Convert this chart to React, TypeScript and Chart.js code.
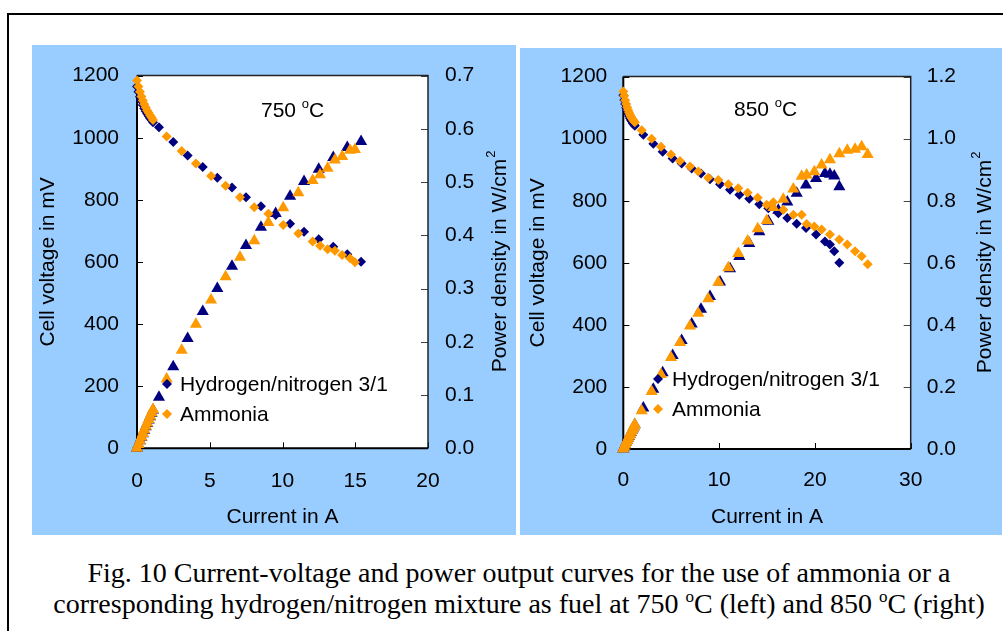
import React, { useEffect, useRef } from "react";
import { Chart, registerables } from "chart.js";
Chart.register(...registerables);

const NAVY = "#000080";
const ORANGE = "#FF9900";
const PANEL = "#99CCFF";
const FONT = "'Liberation Sans', Arial, sans-serif";

// ---------- 750 °C (left panel) ----------
const h750Current = [0, 0.1, 0.2, 0.3, 0.4, 0.5, 0.6, 0.7, 0.8, 0.9, 1.0, 1.1, 1.51, 2.49, 3.48, 4.52, 5.52, 6.53, 7.49, 8.52, 9.53, 10.52, 11.48, 12.49, 13.49, 14.45, 15.4];
const h750Voltage = [1165, 1148, 1132, 1118, 1105, 1094, 1085, 1077, 1070, 1063, 1057, 1050, 1034, 986, 943, 906, 871, 840, 808, 779, 751, 723, 697, 673, 649, 625, 601];
const h750Power = [0, 0.0071, 0.014, 0.0208, 0.0275, 0.034, 0.0404, 0.0468, 0.0532, 0.0594, 0.0656, 0.0717, 0.0958, 0.153, 0.206, 0.257, 0.3, 0.342, 0.381, 0.415, 0.441, 0.4735, 0.501, 0.524, 0.546, 0.565, 0.576];

const a750Current = [0, 0.1, 0.2, 0.3, 0.4, 0.5, 0.6, 0.7, 0.8, 0.9, 1.0, 1.1, 2.04, 3.07, 4.05, 5.09, 6.09, 7.08, 8.06, 9.03, 10.05, 11.09, 12.07, 12.58, 13.1, 13.6, 14.1, 14.64, 14.98];
const a750Voltage = [1184, 1165, 1148, 1133, 1120, 1108, 1097, 1088, 1080, 1072, 1065, 1057, 1004, 957, 917, 877, 845, 808, 776, 755, 719, 692, 666, 652, 641, 636, 622, 612, 599];
const a750Power = [0, 0.0073, 0.0144, 0.0213, 0.028, 0.0348, 0.0413, 0.0477, 0.0541, 0.0604, 0.0666, 0.0728, 0.13, 0.184, 0.233, 0.2785, 0.322, 0.359, 0.39, 0.424, 0.452, 0.48, 0.503, 0.514, 0.526, 0.5415, 0.548, 0.56, 0.561];

// ---------- 850 °C (right panel) ----------
const h850Current = [0, 0.1, 0.2, 0.3, 0.4, 0.5, 0.6, 0.7, 0.8, 0.9, 1.0, 1.1, 1.2, 2.09, 3.13, 4.11, 5.15, 6.09, 7.14, 8.11, 9.05, 10.1, 11.14, 12.11, 13.15, 14.2, 15.14, 16.18, 17.12, 18.1, 19.07, 20.12, 21.05, 21.57, 22.02, 22.55];
const h850Voltage = [1140, 1125, 1112, 1100, 1090, 1081, 1073, 1066, 1060, 1055, 1050, 1046, 1042, 1013, 984, 958, 936, 920, 904, 888, 869, 853, 835, 819, 806, 789, 776, 760, 744, 726, 712, 691, 669, 659, 637, 600];
const h850Power = [0, 0.007, 0.0139, 0.0206, 0.0273, 0.0338, 0.0402, 0.0466, 0.053, 0.0593, 0.0656, 0.0719, 0.0782, 0.132, 0.1925, 0.246, 0.301, 0.35, 0.403, 0.45, 0.4915, 0.538, 0.581, 0.62, 0.662, 0.7, 0.734, 0.769, 0.796, 0.824, 0.851, 0.872, 0.888, 0.885, 0.88, 0.845];

const a850Current = [0, 0.1, 0.2, 0.3, 0.4, 0.5, 0.6, 0.7, 0.8, 0.9, 1.0, 1.1, 1.2, 1.92, 2.96, 3.94, 4.98, 5.92, 6.96, 7.83, 8.87, 9.92, 10.96, 12.0, 12.98, 14.03, 14.97, 15.66, 16.7, 17.75, 18.62, 19.14, 19.94, 20.7, 21.57, 22.55, 23.38, 24.19, 24.88, 25.51];
const a850Voltage = [1152, 1138, 1124, 1112, 1101, 1092, 1084, 1077, 1071, 1066, 1061, 1057, 1053, 1027, 1000, 974, 949, 928, 910, 894, 874, 867, 853, 840, 826, 810, 787, 795, 771, 755, 755, 725, 717, 707, 691, 675, 659, 637, 621, 595];
const a850Power = [0, 0.0071, 0.014, 0.0209, 0.0275, 0.0341, 0.0407, 0.0471, 0.0536, 0.06, 0.0663, 0.0727, 0.079, 0.123, 0.185, 0.24, 0.295, 0.343, 0.396, 0.4375, 0.4845, 0.5375, 0.584, 0.63, 0.67, 0.71, 0.736, 0.778, 0.805, 0.838, 0.879, 0.883, 0.8936, 0.915, 0.932, 0.951, 0.963, 0.966, 0.974, 0.949];

const LABEL_H2 = "Hydrogen/nitrogen 3/1";
const LABEL_NH3 = "Ammonia";
const X_TITLE = "Current in A";
const Y_TITLE = "Cell voltage in mV";
const Y2_TITLE = "Power density in W/cm";

type Panel = {
  w: number; h: number;
  xMax: number; xStep: number; y2Max: number; y2Step: number;
  hCur: number[]; hV: number[]; hP: number[];
  aCur: number[]; aV: number[]; aP: number[];
  temp: string;
  padTop: number; leftW: number; rightW: number; bottomH: number;
  xTickPad: number; yTickPad: number; y2TickPad: number; yTitlePad: number; xTitlePad: number;
  tempX: number; tempY: number;
  legX: number; legY1: number; legY2: number; legTextX: number;
  y2TitleX: number;
};

const pts = (xs: number[], ys: number[]) => xs.map((x, i) => ({ x, y: ys[i] }));

function makeChart(canvas: HTMLCanvasElement, p: Panel) {
  const deco = {
    id: "deco",
    beforeDraw(chart: any) {
      const { ctx, chartArea: a, width, height } = chart;
      ctx.save();
      ctx.fillStyle = PANEL;
      ctx.fillRect(0, 0, width, height);
      ctx.fillStyle = "#fff";
      ctx.fillRect(a.left, a.top, a.right - a.left, a.bottom - a.top);
      ctx.restore();
    },
    beforeDatasetsDraw(chart: any) {
      const { ctx, chartArea: a } = chart;
      const sx = chart.scales.x, sy = chart.scales.y, sy2 = chart.scales.y2;
      ctx.save();
      ctx.strokeStyle = "#000";
      ctx.lineWidth = 1;
      ctx.beginPath();
      for (const t of sx.ticks) {
        const px = Math.round(sx.getPixelForValue(t.value)) + 0.5;
        ctx.moveTo(px, a.bottom); ctx.lineTo(px, a.bottom - 6);
      }
      for (const t of sy.ticks) {
        const py = Math.round(sy.getPixelForValue(t.value)) + 0.5;
        ctx.moveTo(a.left, py); ctx.lineTo(a.left + 6, py);
      }
      ctx.stroke();
      ctx.strokeStyle = "#444";
      ctx.beginPath();
      for (const t of sy2.ticks) {
        const py = Math.round(sy2.getPixelForValue(t.value)) + 0.5;
        ctx.moveTo(a.right, py); ctx.lineTo(a.right - 7, py);
      }
      ctx.stroke();
      // frame
      ctx.strokeStyle = "#222";
      ctx.lineWidth = 1.5;
      ctx.beginPath();
      ctx.moveTo(a.left, a.top); ctx.lineTo(a.right, a.top); ctx.lineTo(a.right, a.bottom);
      ctx.stroke();
      ctx.strokeStyle = "#000";
      ctx.lineWidth = 2;
      ctx.beginPath();
      ctx.moveTo(a.left, a.top); ctx.lineTo(a.left, a.bottom); ctx.lineTo(a.right, a.bottom);
      ctx.stroke();
      ctx.restore();
    },
    afterDraw(chart: any) {
      const { ctx, chartArea: a } = chart;
      ctx.save();
      ctx.fillStyle = "#000";
      ctx.textBaseline = "alphabetic";
      ctx.textAlign = "left";
      // temperature label with superscript o
      ctx.font = `21px ${FONT}`;
      const t1 = p.temp + " ";
      ctx.fillText(t1, p.tempX, p.tempY);
      let xx = p.tempX + ctx.measureText(t1).width;
      ctx.font = `13px ${FONT}`;
      ctx.fillText("o", xx, p.tempY - 9);
      xx += ctx.measureText("o").width;
      ctx.font = `21px ${FONT}`;
      ctx.fillText("C", xx, p.tempY);
      // legend
      const diamond = (cx: number, cy: number, col: string) => {
        ctx.fillStyle = col;
        ctx.beginPath();
        ctx.moveTo(cx, cy - 5); ctx.lineTo(cx + 5, cy); ctx.lineTo(cx, cy + 5); ctx.lineTo(cx - 5, cy);
        ctx.closePath();
        ctx.fill();
      };
      diamond(p.legX, p.legY1, NAVY);
      diamond(p.legX, p.legY2, ORANGE);
      ctx.fillStyle = "#000";
      ctx.font = `21px ${FONT}`;
      ctx.textBaseline = "middle";
      ctx.fillText(LABEL_H2, p.legTextX, p.legY1 + 1);
      ctx.fillText(LABEL_NH3, p.legTextX, p.legY2 + 1);
      // right axis title (rotated, reading bottom-to-top) with superscript 2
      const cy = (a.top + a.bottom) / 2;
      ctx.translate(p.y2TitleX, cy);
      ctx.rotate(-Math.PI / 2);
      ctx.font = `21px ${FONT}`;
      const wMain = ctx.measureText(Y2_TITLE).width;
      ctx.font = `13px ${FONT}`;
      const wSup = ctx.measureText("2").width;
      const start = -(wMain + wSup) / 2;
      ctx.font = `21px ${FONT}`;
      ctx.textBaseline = "middle";
      ctx.fillText(Y2_TITLE, start, 0);
      ctx.font = `13px ${FONT}`;
      ctx.fillText("2", start + wMain + 1, -9);
      ctx.restore();
    },
  };

  const tickFont = { family: FONT, size: 21 };
  return new Chart(canvas, {
    type: "scatter",
    data: {
      datasets: [
        { label: LABEL_NH3, data: pts(p.aCur, p.aV), yAxisID: "y", pointStyle: "rectRot", pointRadius: 5, pointBorderWidth: 0, backgroundColor: ORANGE, borderColor: ORANGE, clip: false } as any,
        { label: LABEL_NH3 + " power", data: pts(p.aCur, p.aP), yAxisID: "y2", pointStyle: "triangle", pointRadius: 7, pointBorderWidth: 0, backgroundColor: ORANGE, borderColor: ORANGE, clip: false } as any,
        { label: LABEL_H2, data: pts(p.hCur, p.hV), yAxisID: "y", pointStyle: "rectRot", pointRadius: 5, pointBorderWidth: 0, backgroundColor: NAVY, borderColor: NAVY, clip: false } as any,
        { label: LABEL_H2 + " power", data: pts(p.hCur, p.hP), yAxisID: "y2", pointStyle: "triangle", pointRadius: 7, pointBorderWidth: 0, backgroundColor: NAVY, borderColor: NAVY, clip: false } as any,
      ],
    },
    options: {
      animation: false,
      responsive: false,
      devicePixelRatio: 1,
      layout: { padding: { top: p.padTop, left: 0, right: 0, bottom: 0 } },
      plugins: { legend: { display: false }, tooltip: { enabled: false } },
      events: [],
      scales: {
        x: {
          type: "linear", min: 0, max: p.xMax,
          ticks: { stepSize: p.xStep, color: "#000", font: tickFont, padding: p.xTickPad, maxRotation: 0, callback: (v: any) => String(v) },
          grid: { display: false, drawTicks: false },
          border: { display: false },
          title: { display: true, text: X_TITLE, color: "#000", font: tickFont, padding: { top: 0, bottom: p.xTitlePad } },
          afterFit: (s: any) => { s.height = p.bottomH; },
        },
        y: {
          type: "linear", position: "left", min: 0, max: 1200,
          ticks: { stepSize: 200, color: "#000", font: tickFont, padding: p.yTickPad, callback: (v: any) => String(v) },
          grid: { display: false, drawTicks: false },
          border: { display: false },
          title: { display: true, text: Y_TITLE, color: "#000", font: tickFont, padding: { top: p.yTitlePad, bottom: 0 } },
          afterFit: (s: any) => { s.width = p.leftW; },
        },
        y2: {
          type: "linear", position: "right", min: 0, max: p.y2Max,
          ticks: { stepSize: p.y2Step, color: "#000", font: tickFont, padding: p.y2TickPad, callback: (v: any) => Number(v).toFixed(1) },
          grid: { display: false, drawTicks: false },
          border: { display: false },
          afterFit: (s: any) => { s.width = p.rightW; },
        },
      },
    } as any,
    plugins: [deco],
  });
}

const leftPanel: Panel = {
  w: 484, h: 490,
  xMax: 20, xStep: 5, y2Max: 0.7, y2Step: 0.1,
  hCur: h750Current, hV: h750Voltage, hP: h750Power,
  aCur: a750Current, aV: a750Voltage, aP: a750Power,
  temp: "750",
  padTop: 26, leftW: 105, rightW: 88, bottomH: 86.7,
  xTickPad: 20, yTickPad: 18, y2TickPad: 17, yTitlePad: 4, xTitlePad: 5,
  tempX: 229, tempY: 72,
  legX: 135, legY1: 339, legY2: 369, legTextX: 148,
  y2TitleX: 468,
};

const rightPanel: Panel = {
  w: 482, h: 487,
  xMax: 30, xStep: 10, y2Max: 1.2, y2Step: 0.2,
  hCur: h850Current, hV: h850Voltage, hP: h850Power,
  aCur: a850Current, aV: a850Voltage, aP: a850Power,
  temp: "850",
  padTop: 26.3, leftW: 103.3, rightW: 91.3, bottomH: 86,
  xTickPad: 19, yTickPad: 16, y2TickPad: 16, yTitlePad: 5.4, xTitlePad: 5,
  tempX: 214, tempY: 68,
  legX: 138, legY1: 331, legY2: 361, legTextX: 152,
  y2TitleX: 465,
};

function PanelChart({ p, left, top }: { p: Panel; left: number; top: number }) {
  const ref = useRef<HTMLCanvasElement>(null);
  useEffect(() => {
    if (!ref.current) return;
    const c = makeChart(ref.current, p);
    return () => c.destroy();
  }, [p]);
  return (
    <div style={{ position: "absolute", left, top, width: p.w, height: p.h }}>
      <canvas ref={ref} width={p.w} height={p.h} style={{ display: "block", width: p.w, height: p.h }} />
    </div>
  );
}

const supStyle: React.CSSProperties = { fontSize: 17, position: "relative", top: -11, lineHeight: 0 };

export default function App() {
  return (
    <div style={{ position: "absolute", left: 0, top: 0, width: 1003, height: 631, background: "#fff", overflow: "hidden" }}>
      <div style={{ position: "absolute", left: 7, top: 13, width: 1100, height: 700, borderLeft: "2px solid #000", borderTop: "2px solid #000" }} />
      <PanelChart p={leftPanel} left={32} top={45} />
      <PanelChart p={rightPanel} left={520} top={48} />
      <div
        style={{
          position: "absolute", left: 20, top: 557, width: 998, textAlign: "center",
          fontFamily: "'Liberation Serif', 'Times New Roman', serif", fontSize: 28, lineHeight: "31px", color: "#000",
          whiteSpace: "nowrap",
        }}
      >
        Fig. 10 Current-voltage and power output curves for the use of ammonia or a
        <br />
        corresponding hydrogen/nitrogen mixture as fuel at 750 <span style={supStyle}>o</span>C (left) and 850 <span style={supStyle}>o</span>C (right)
      </div>
    </div>
  );
}
